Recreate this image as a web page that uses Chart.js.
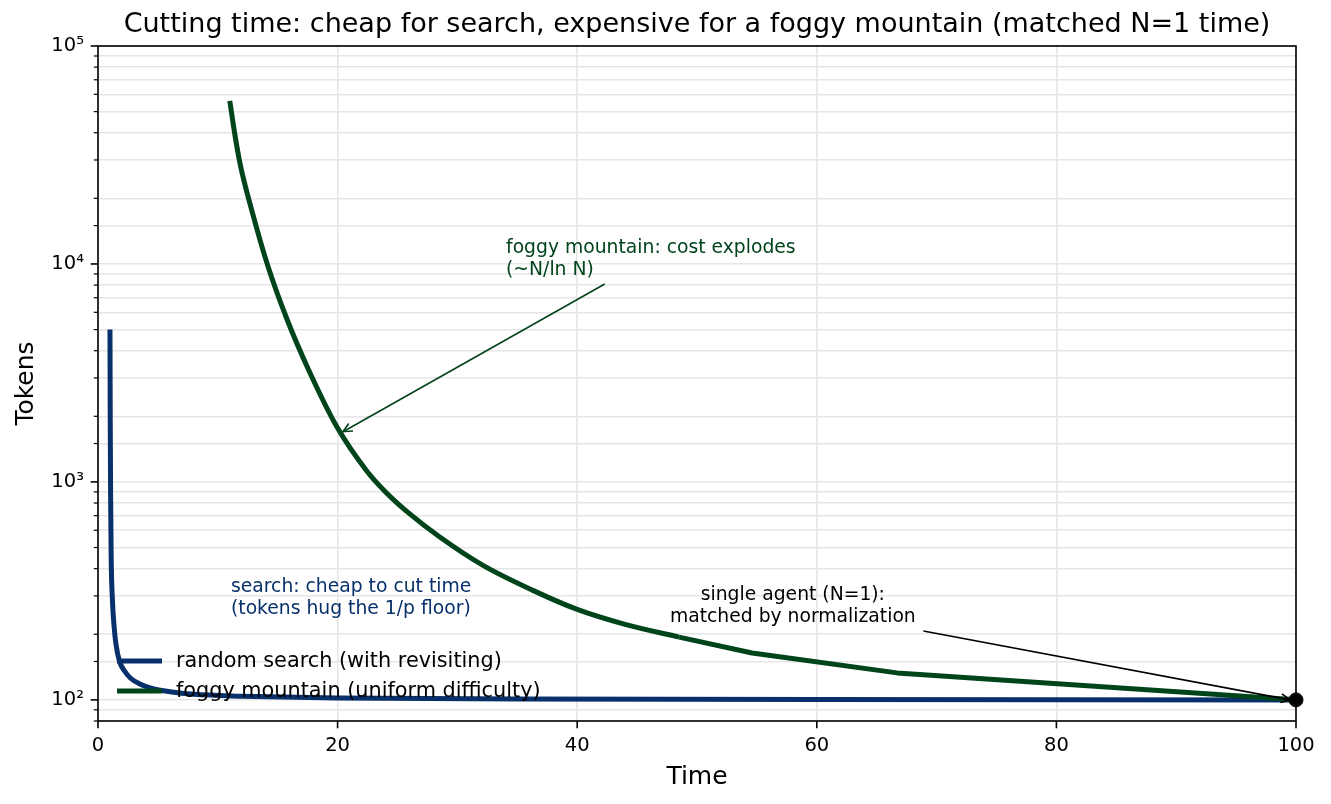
<!DOCTYPE html>
<html>
<head>
<meta charset="utf-8">
<script src="https://cdn.jsdelivr.net/npm/chart.js@4.4.0/dist/chart.umd.min.js"></script>
<style>
  html, body { margin: 0; padding: 0; background: #fff; }
  #wrap { width: 1331px; height: 804px; }
</style>
</head>
<body>
<div id="wrap"><canvas id="chart" width="1331" height="804"></canvas></div>
<script>
// data
const searchTime   = [1.0, 1.02, 1.05, 1.1, 1.2, 1.35, 1.5, 1.8, 2.2, 2.7, 3.4, 4.5, 6, 8, 12, 20, 35, 60, 100];
const searchTokens = [5000, 2000, 900, 450, 290, 215, 180, 150, 136, 126, 119, 113, 109, 106, 104, 102, 101, 100.3, 100];

const foggyTime   = [11.0, 11.4, 11.85, 12.9, 14.2, 15.8, 17.7, 19.95, 22.45, 24.0, 26.0, 28.5, 32.1, 36.3, 40.0, 44.0, 48.5, 54.6, 66.7, 100];
const foggyTokens = [56000, 40000, 29000, 17100, 9700, 5530, 3160, 1785, 1120, 900, 715, 560, 415, 318, 260, 222, 194, 164, 133, 100];

const singleTime   = [100];
const singleTokens = [100];

const seriesLabels = ['random search (with revisiting)', 'foggy mountain (uniform difficulty)'];
const xTickValues = [0, 20, 40, 60, 80, 100];
const yTickLabels = { 100: '10²', 1000: '10³', 10000: '10⁴', 100000: '10⁵' };

const NAVY = '#08306b';
const GREEN = '#00441b';
const FONT = '"DejaVu Sans", sans-serif';

const toPoints = (xs, ys) => xs.map((x, i) => ({ x: x, y: ys[i] }));

// the few-agent end of the foggy curve is made of visible straight pieces
const foggyPoints = toPoints(foggyTime, foggyTokens);
const KINK_FROM = 16;

// annotations (data coords)
const notes = [
  { lines: ['foggy mountain: cost explodes', '(~N/ln N)'], x: 34.06, y: 11830, align: 'left', color: GREEN,
    arrow: { from: [42.3, 8090], to: [20.45, 1700] } },
  { lines: ['search: cheap to cut time', '(tokens hug the 1/p floor)'], x: 11.1, y: 330, align: 'left', color: NAVY },
  { lines: ['single agent (N=1):', 'matched by normalization'], x: 58.0, y: 303, align: 'center', color: '#000',
    arrow: { from: [68.9, 207], to: [99.5, 100] } }
];

function drawArrow(ctx, x1, y1, x2, y2, color) {
  ctx.save();
  ctx.strokeStyle = color;
  ctx.lineWidth = 1.6;
  ctx.beginPath();
  ctx.moveTo(x1, y1);
  ctx.lineTo(x2, y2);
  ctx.stroke();
  const a = Math.atan2(y2 - y1, x2 - x1);
  const len = 10, spread = 0.45;
  ctx.beginPath();
  ctx.moveTo(x2 - len * Math.cos(a - spread), y2 - len * Math.sin(a - spread));
  ctx.lineTo(x2, y2);
  ctx.lineTo(x2 - len * Math.cos(a + spread), y2 - len * Math.sin(a + spread));
  ctx.stroke();
  ctx.restore();
}

const decor = {
  id: 'decor',
  afterDraw(chart) {
    const ctx = chart.ctx;
    const area = chart.chartArea;
    const xs = chart.scales.x, ys = chart.scales.y;

    ctx.save();
    // frame
    ctx.strokeStyle = '#000';
    ctx.lineWidth = 1.6;
    ctx.strokeRect(area.left, area.top, area.right - area.left, area.bottom - area.top);

    // tick marks
    xs.ticks.forEach(t => {
      const px = xs.getPixelForValue(t.value);
      ctx.beginPath();
      ctx.moveTo(px, area.bottom);
      ctx.lineTo(px, area.bottom + 7.3);
      ctx.stroke();
    });
    ys.ticks.forEach(t => {
      const py = ys.getPixelForValue(t.value);
      const major = yTickLabels[t.value] !== undefined;
      ctx.lineWidth = major ? 1.6 : 1.2;
      ctx.beginPath();
      ctx.moveTo(area.left, py);
      ctx.lineTo(area.left - (major ? 7.3 : 4.2), py);
      ctx.stroke();
    });

    // title + axis titles
    ctx.fillStyle = '#000';
    ctx.textAlign = 'center';
    ctx.textBaseline = 'middle';
    ctx.font = '27px ' + FONT;
    ctx.fillText('Cutting time: cheap for search, expensive for a foggy mountain (matched N=1 time)', (area.left + area.right) / 2, 25);
    ctx.font = '25px ' + FONT;
    ctx.fillText('Time', (area.left + area.right) / 2, 777);
    ctx.save();
    ctx.translate(26, (area.top + area.bottom) / 2);
    ctx.rotate(-Math.PI / 2);
    ctx.fillText('Tokens', 0, 0);
    ctx.restore();

    // annotations
    ctx.font = '18.75px ' + FONT;
    notes.forEach(n => {
      if (n.arrow) {
        drawArrow(ctx,
          xs.getPixelForValue(n.arrow.from[0]), ys.getPixelForValue(n.arrow.from[1]),
          xs.getPixelForValue(n.arrow.to[0]), ys.getPixelForValue(n.arrow.to[1]), n.color);
      }
      ctx.fillStyle = n.color;
      ctx.textAlign = n.align;
      const px = xs.getPixelForValue(n.x), py = ys.getPixelForValue(n.y);
      n.lines.forEach((l, i) => ctx.fillText(l, px, py + i * 22));
    });

    // legend (no frame, bottom-left)
    ctx.font = '20.8px ' + FONT;
    ctx.textAlign = 'left';
    const colors = [NAVY, GREEN];
    seriesLabels.forEach((lab, i) => {
      const y = area.bottom - 60 + i * 30;
      ctx.strokeStyle = colors[i];
      ctx.lineWidth = 5;
      ctx.beginPath();
      ctx.moveTo(area.left + 19, y);
      ctx.lineTo(area.left + 64, y);
      ctx.stroke();
      ctx.fillStyle = '#000';
      ctx.fillText(lab, area.left + 78, y + 1);
    });
    ctx.restore();
  }
};

new Chart(document.getElementById('chart'), {
  type: 'line',
  data: {
    datasets: [
      {
        label: seriesLabels[0],
        data: toPoints(searchTime, searchTokens),
        borderColor: NAVY,
        borderWidth: 5,
        pointRadius: 0,
        cubicInterpolationMode: 'monotone',
        order: 3
      },
      {
        label: seriesLabels[1],
        data: foggyPoints.slice(0, KINK_FROM + 1),
        borderColor: GREEN,
        borderWidth: 5,
        pointRadius: 0,
        cubicInterpolationMode: 'monotone',
        order: 2
      },
      {
        label: seriesLabels[1] + ' ',
        data: foggyPoints.slice(KINK_FROM),
        borderColor: GREEN,
        borderWidth: 5,
        pointRadius: 0,
        tension: 0,
        borderJoinStyle: 'round',
        order: 1
      },
      {
        label: 'single agent',
        data: toPoints(singleTime, singleTokens),
        showLine: false,
        pointRadius: 7,
        pointBackgroundColor: '#000',
        pointBorderColor: '#000',
        clip: false,
        order: 0
      }
    ]
  },
  options: {
    responsive: false,
    animation: false,
    devicePixelRatio: 1,
    layout: { padding: { top: 46, right: 35, left: 0, bottom: 0 } },
    plugins: {
      legend: { display: false },
      title: { display: false },
      tooltip: { enabled: false }
    },
    scales: {
      x: {
        type: 'linear',
        min: 0,
        max: 100,
        afterBuildTicks: s => { s.ticks = xTickValues.map(v => ({ value: v })); },
        afterFit: s => { s.height = 83; },
        border: { display: false },
        grid: { color: '#e6e6e6', lineWidth: 1.6, drawTicks: false },
        ticks: { color: '#000', font: { family: FONT, size: 19.5 }, padding: 13 }
      },
      y: {
        type: 'logarithmic',
        min: 80,
        max: 100000,
        afterFit: s => { s.width = 98; },
        border: { display: false },
        grid: { color: '#e6e6e6', lineWidth: 1.6, drawTicks: false },
        ticks: {
          autoSkip: false,
          color: '#000',
          font: { family: FONT, size: 19.5 },
          padding: 14,
          callback: v => yTickLabels[v] || ''
        }
      }
    }
  },
  plugins: [decor]
});
</script>
</body>
</html>
